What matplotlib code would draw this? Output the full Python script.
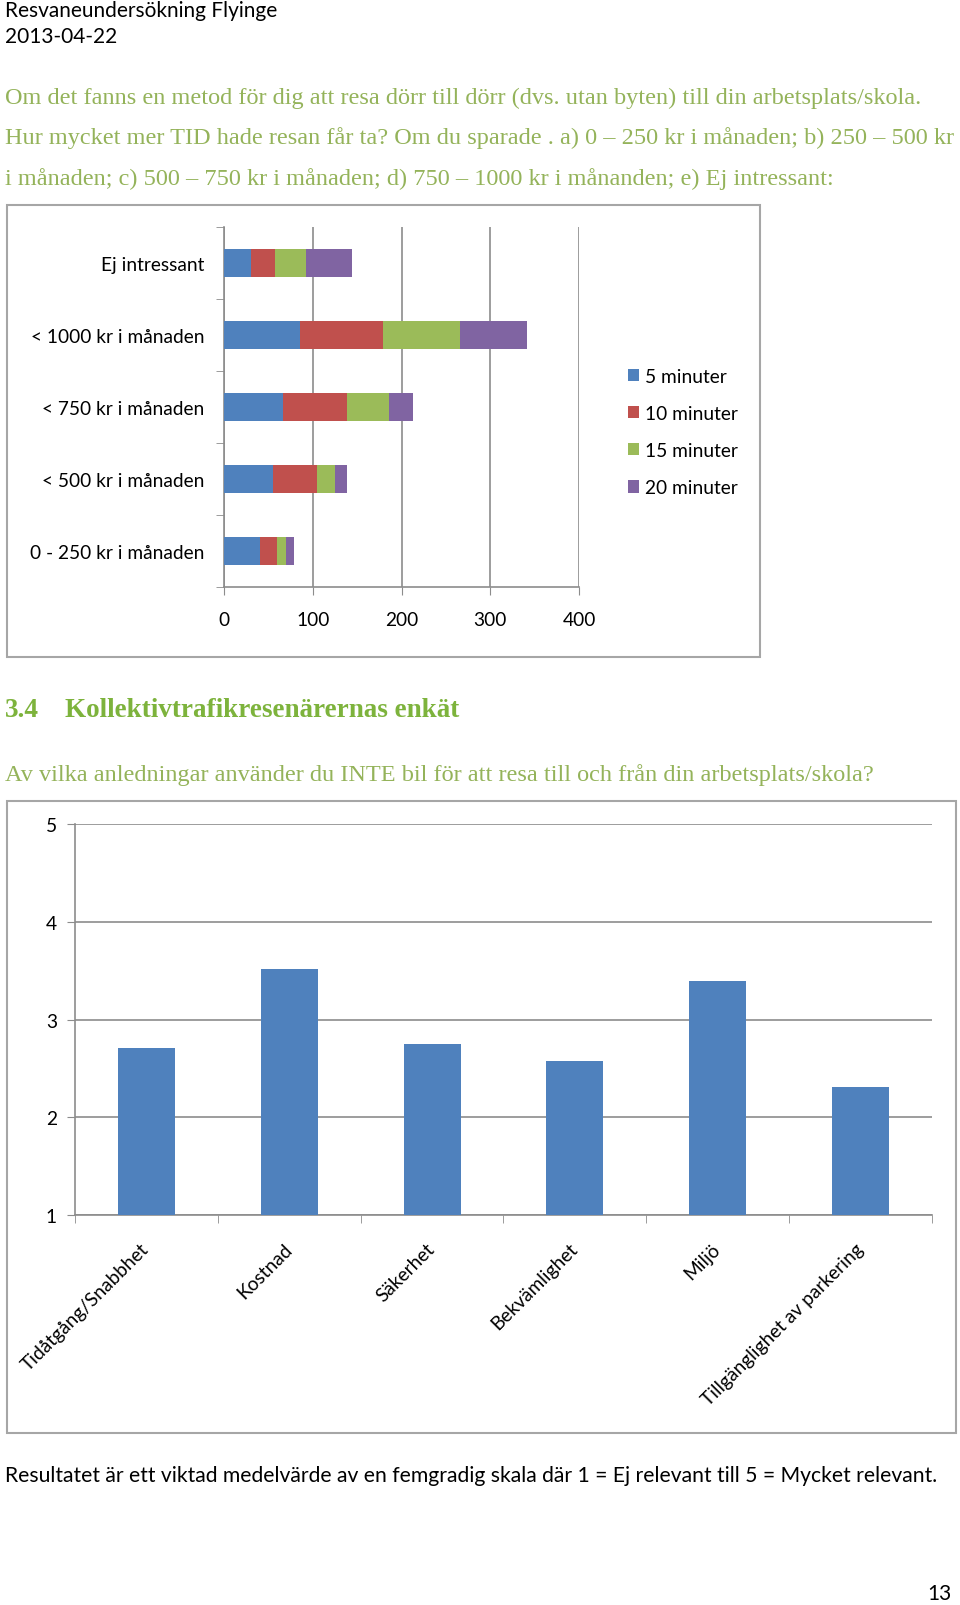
import matplotlib
matplotlib.use("Agg")
import matplotlib.pyplot as plt
from matplotlib.patches import Rectangle, Patch

# Data: stacked bars (minutes extra per saving level)
price_levels = ["0 - 250 kr i månaden", "< 500 kr i månaden", "< 750 kr i månaden",
                "< 1000 kr i månaden", "Ej intressant"]
min5 = [41, 55, 67, 86, 30]
min10 = [19, 50, 72, 93, 28]
min15 = [10, 20, 47, 87, 34]
min20 = [9, 14, 27, 75, 52]
series_labels = ["5 minuter", "10 minuter", "15 minuter", "20 minuter"]
series_colors = ["#4F81BD", "#C0504D", "#9BBB59", "#8064A2"]

# Data: reasons not to use car (weighted mean, 1-5)
reasons = ["Tidåtgång/Snabbhet", "Kostnad", "Säkerhet", "Bekvämlighet", "Miljö",
           "Tillgänglighet av parkering"]
scores = [2.71, 3.52, 2.75, 2.58, 3.39, 2.31]

W, H = 960, 1606
SANS = "Lato"
SERIF = "Liberation Serif"
GREEN = "#94B35A"
HEAD_GREEN = "#7DB33C"
GRID = "#8C8C8C"
BOX = "#A6A6A6"
TICK_FS = 13.8


def fx(px):
    return px / W


def fy(py):
    return 1 - py / H


fig = plt.figure(figsize=(9.6, 16.06), dpi=100)

# page text
fig.text(fx(5), fy(11), "Resvaneundersökning Flyinge", family=SANS, fontsize=15, va="center")
fig.text(fx(5), fy(37), "2013-04-22", family=SANS, fontsize=15, va="center")
para = ["Om det fanns en metod för dig att resa dörr till dörr (dvs. utan byten) till din arbetsplats/skola.",
        "Hur mycket mer TID hade resan får ta? Om du sparade . a) 0 \u2013 250 kr i månaden; b) 250 \u2013 500 kr",
        "i månaden; c) 500 \u2013 750 kr i månaden; d) 750 \u2013 1000 kr i månanden; e) Ej intressant:"]
for line, y in zip(para, [98, 138, 179]):
    fig.text(fx(5), fy(y), line, family=SERIF, fontsize=17.5, color=GREEN, va="center")
fig.text(fx(5), fy(711), "3.4", family=SERIF, fontsize=19.5, color=HEAD_GREEN,
         weight="bold", va="center")
fig.text(fx(65), fy(711), "Kollektivtrafikresenärernas enkät", family=SERIF, fontsize=19.5,
         color=HEAD_GREEN, weight="bold", va="center")
fig.text(fx(5), fy(775), "Av vilka anledningar använder du INTE bil för att resa till och från din arbetsplats/skola?",
         family=SERIF, fontsize=17.5, color=GREEN, va="center")
fig.text(fx(5), fy(1476), "Resultatet är ett viktad medelvärde av en femgradig skala där 1 = Ej relevant till 5 = Mycket relevant.",
         family=SANS, fontsize=15.2, va="center")
fig.text(fx(952), fy(1594), "13", family=SANS, fontsize=15, va="center", ha="right")

# chart frames
fig.patches.append(Rectangle((fx(7), fy(658)), fx(760) - fx(7), fy(206) - fy(658),
                             transform=fig.transFigure, fill=False, edgecolor=BOX, lw=1.5))
fig.patches.append(Rectangle((fx(7), fy(1434)), fx(956) - fx(7), fy(802) - fy(1434),
                             transform=fig.transFigure, fill=False, edgecolor=BOX, lw=1.5))

# ---- stacked horizontal bars ----
ax1 = fig.add_axes([fx(224), fy(588), fx(579) - fx(224), fy(228) - fy(588)])
y = list(range(len(price_levels)))
left = [0] * len(price_levels)
for vals, lab, col in zip([min5, min10, min15, min20], series_labels, series_colors):
    ax1.barh(y, vals, left=left, height=0.39, color=col, label=lab, zorder=3)
    left = [a + b for a, b in zip(left, vals)]

ax1.set_xlim(0, 400)
ax1.set_ylim(-0.5, len(price_levels) - 0.5)
ax1.set_xticks([0, 100, 200, 300, 400])
ax1.set_yticks(y)
ax1.set_yticklabels(price_levels, family=SANS, fontsize=TICK_FS)
ax1.set_yticks([i - 0.5 for i in range(len(price_levels) + 1)], minor=True)
ax1.tick_params(axis="y", which="major", length=0, pad=14)
ax1.tick_params(axis="y", which="minor", length=6, color=GRID, direction="out")
ax1.tick_params(axis="x", length=6, color=GRID, pad=11, labelsize=TICK_FS)
for t in ax1.get_xticklabels():
    t.set_family(SANS)
ax1.grid(axis="x", color=GRID, lw=1.2, zorder=0)
for s in ["top", "right"]:
    ax1.spines[s].set_visible(False)
for s in ["left", "bottom"]:
    ax1.spines[s].set_color(GRID)
    ax1.spines[s].set_linewidth(1.2)

handles = [Patch(facecolor=c, edgecolor="none") for c in series_colors]
fig.legend(handles, series_labels, loc="center left", bbox_to_anchor=(fx(620), fy(433)),
           frameon=False, prop={"family": SANS, "size": TICK_FS}, handlelength=0.6,
           handleheight=0.6, handletextpad=0.3, labelspacing=1.05, borderaxespad=0)

# ---- vertical bars ----
ax2 = fig.add_axes([fx(75), fy(1216), fx(932) - fx(75), fy(825) - fy(1216)])
x = list(range(len(reasons)))
ax2.bar(x, scores, width=0.4, color="#4F81BD", zorder=3)
ax2.set_xlim(-0.5, len(reasons) - 0.5)
ax2.set_ylim(1, 5)
ax2.set_yticks([1, 2, 3, 4, 5])
ax2.set_xticks(x)
ax2.set_xticks([i - 0.5 for i in range(len(reasons) + 1)], minor=True)
ax2.set_xticklabels(reasons, rotation=45, ha="right", va="center", rotation_mode="anchor",
                    family=SANS, fontsize=TICK_FS)
ax2.tick_params(axis="x", which="major", length=0, pad=22)
ax2.tick_params(axis="x", which="minor", length=6, color=GRID)
ax2.tick_params(axis="y", length=6, color=GRID, pad=7, labelsize=TICK_FS)
for t in ax2.get_yticklabels():
    t.set_family(SANS)
ax2.grid(axis="y", color=GRID, lw=1.2, zorder=0)
for s in ["top", "right"]:
    ax2.spines[s].set_visible(False)
for s in ["left", "bottom"]:
    ax2.spines[s].set_color(GRID)
    ax2.spines[s].set_linewidth(1.2)

fig.savefig("out.png", dpi=100)
